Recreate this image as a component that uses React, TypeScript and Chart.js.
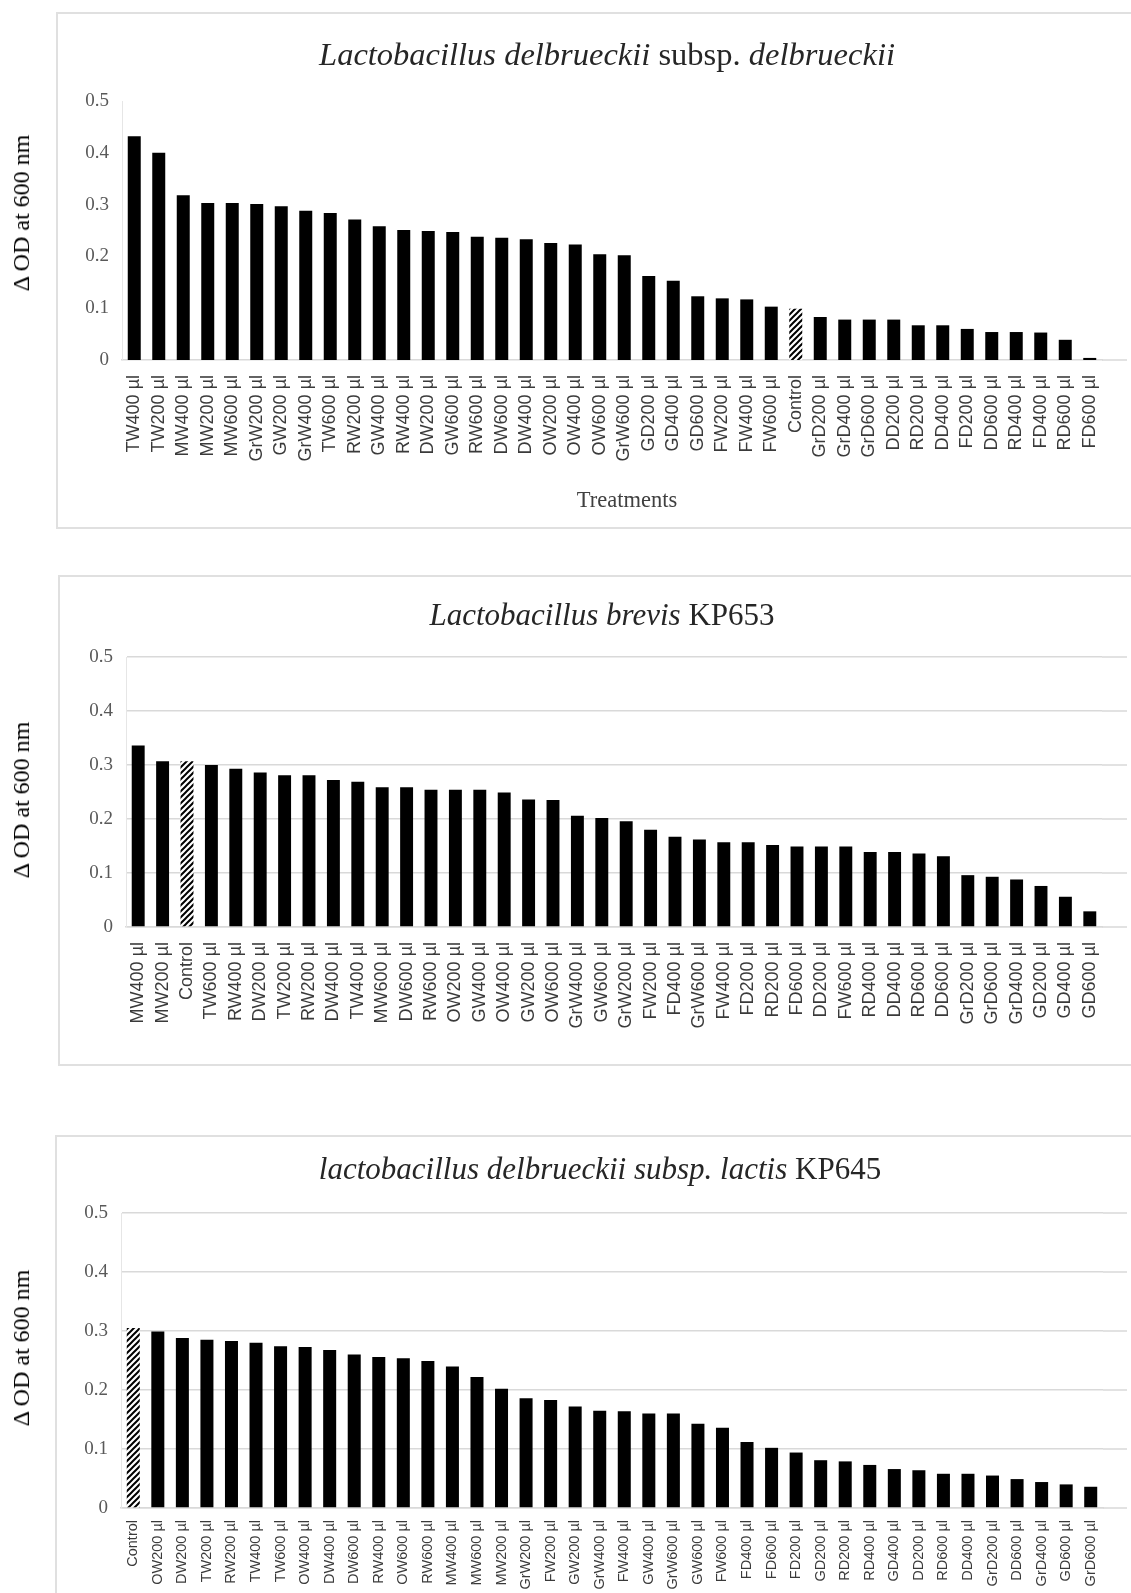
import React, { useEffect, useRef } from "react";
import { Chart, registerables } from "chart.js";

Chart.register(...registerables);

// ---------- Data ----------
const LDD_CATEGORIES = [
  "TW400 µl", "TW200 µl", "MW400 µl", "MW200 µl", "MW600 µl", "GrW200 µl", "GW200 µl", "GrW400 µl",
  "TW600 µl", "RW200 µl", "GW400 µl", "RW400 µl", "DW200 µl", "GW600 µl", "RW600 µl", "DW600 µl",
  "DW400 µl", "OW200 µl", "OW400 µl", "OW600 µl", "GrW600 µl", "GD200 µl", "GD400 µl", "GD600 µl",
  "FW200 µl", "FW400 µl", "FW600 µl", "Control", "GrD200 µl", "GrD400 µl", "GrD600 µl", "DD200 µl",
  "RD200 µl", "DD400 µl", "FD200 µl", "DD600 µl", "RD400 µl", "FD400 µl", "RD600 µl", "FD600 µl",
];
const LDD_VALUES = [
  0.432, 0.4, 0.318, 0.303, 0.303, 0.301, 0.297, 0.288,
  0.284, 0.271, 0.258, 0.251, 0.249, 0.247, 0.238, 0.236,
  0.233, 0.226, 0.223, 0.204, 0.202, 0.162, 0.153, 0.123,
  0.119, 0.117, 0.103, 0.099, 0.083, 0.078, 0.078, 0.078,
  0.067, 0.067, 0.06, 0.054, 0.054, 0.053, 0.039, 0.004,
];

const LB_CATEGORIES = [
  "MW400 µl", "MW200 µl", "Control", "TW600 µl", "RW400 µl", "DW200 µl", "TW200 µl", "RW200 µl",
  "DW400 µl", "TW400 µl", "MW600 µl", "DW600 µl", "RW600 µl", "OW200 µl", "GW400 µl", "OW400 µl",
  "GW200 µl", "OW600 µl", "GrW400 µl", "GW600 µl", "GrW200 µl", "FW200 µl", "FD400 µl", "GrW600 µl",
  "FW400 µl", "FD200 µl", "RD200 µl", "FD600 µl", "DD200 µl", "FW600 µl", "RD400 µl", "DD400 µl",
  "RD600 µl", "DD600 µl", "GrD200 µl", "GrD600 µl", "GrD400 µl", "GD200 µl", "GD400 µl", "GD600 µl",
];
const LB_VALUES = [
  0.336, 0.307, 0.307, 0.3, 0.293, 0.286, 0.281, 0.281,
  0.272, 0.269, 0.259, 0.259, 0.254, 0.254, 0.254, 0.249,
  0.236, 0.235, 0.206, 0.202, 0.196, 0.18, 0.167, 0.162,
  0.157, 0.157, 0.152, 0.149, 0.149, 0.149, 0.139, 0.139,
  0.136, 0.131, 0.096, 0.093, 0.088, 0.076, 0.056, 0.029,
];

const LDL_CATEGORIES = [
  "Control", "OW200 µl", "DW200 µl", "TW200 µl", "RW200 µl", "TW400 µl", "TW600 µl", "OW400 µl",
  "DW400 µl", "DW600 µl", "RW400 µl", "OW600 µl", "RW600 µl", "MW400 µl", "MW600 µl", "MW200 µl",
  "GrW200 µl", "FW200 µl", "GW200 µl", "GrW400 µl", "FW400 µl", "GW400 µl", "GrW600 µl", "GW600 µl",
  "FW600 µl", "FD400 µl", "FD600 µl", "FD200 µl", "GD200 µl", "RD200 µl", "RD400 µl", "GD400 µl",
  "DD200 µl", "RD600 µl", "DD400 µl", "GrD200 µl", "DD600 µl", "GrD400 µl", "GD600 µl", "GrD600 µl",
];
const LDL_VALUES = [
  0.305, 0.299, 0.288, 0.285, 0.283, 0.28, 0.274, 0.273,
  0.268, 0.26, 0.256, 0.254, 0.249, 0.24, 0.222, 0.202,
  0.186, 0.183, 0.172, 0.165, 0.164, 0.16, 0.16, 0.143,
  0.136, 0.112, 0.102, 0.094, 0.081, 0.079, 0.073, 0.066,
  0.064, 0.058, 0.058, 0.055, 0.049, 0.044, 0.04, 0.036,
];

const Y_MIN = 0;
const Y_MAX = 0.5;
const Y_STEP = 0.1;
const Y_LABEL = "Δ OD at 600 nm";
const X_LABEL = "Treatments";

// ---------- Helpers ----------
const W = 1131;
const SERIF = "'Liberation Serif', 'Times New Roman', serif";
const SANS = "'Liberation Sans', Arial, sans-serif";
const GRID = "#d9d9d9";

function makeHatch(): CanvasPattern | string {
  const c = document.createElement("canvas");
  const s = 6;
  c.width = s;
  c.height = s;
  const x = c.getContext("2d");
  if (!x) return "#555";
  x.fillStyle = "#fff";
  x.fillRect(0, 0, s, s);
  x.strokeStyle = "#000";
  x.lineWidth = 2;
  x.beginPath();
  x.moveTo(0, s);
  x.lineTo(s, 0);
  x.moveTo(-1, 1);
  x.lineTo(1, -1);
  x.moveTo(s - 1, s + 1);
  x.lineTo(s + 1, s - 1);
  x.stroke();
  return x.createPattern(c, "repeat") || "#555";
}

const extendLines = {
  id: "extendLines",
  beforeDatasetsDraw(chart: any, _args: any, opts: any) {
    const y = chart.scales.y;
    const { right } = chart.chartArea;
    const ctx = chart.ctx;
    ctx.save();
    ctx.strokeStyle = opts.color;
    ctx.lineWidth = 1.5;
    y.ticks.forEach((t: any) => {
      if (!opts.all && t.value !== 0) return;
      const py = y.getPixelForValue(t.value);
      ctx.beginPath();
      ctx.moveTo(right, py);
      ctx.lineTo(opts.to, py);
      ctx.stroke();
    });
    ctx.restore();
  },
};

type Area = { left: number; right: number; top: number; bottom: number };

function BarPanel(props: {
  top: number;
  height: number;
  labels: string[];
  values: number[];
  area: Area;
  grid: boolean;
  labelSize: number;
  labelPad: number;
}) {
  const ref = useRef<HTMLCanvasElement>(null);
  const { top, height, labels, values, area, grid, labelSize, labelPad } = props;
  useEffect(() => {
    const canvas = ref.current;
    if (!canvas) return;
    const hatch = makeHatch();
    const colors = labels.map((l) => (l === "Control" ? hatch : "#000000"));
    const chart = new Chart(canvas, {
      type: "bar",
      data: {
        labels,
        datasets: [
          {
            data: values,
            backgroundColor: colors as any,
            borderWidth: 0,
            barPercentage: 0.53,
            categoryPercentage: 1,
          },
        ],
      },
      options: {
        responsive: false,
        animation: false,
        events: [],
        layout: { padding: { left: 0, top: area.top, right: W - area.right, bottom: 0 } },
        plugins: {
          legend: { display: false },
          tooltip: { enabled: false },
          title: { display: false },
          extendLines: { to: 1127, all: grid, color: GRID },
        } as any,
        scales: {
          x: {
            grid: { display: false, drawTicks: false },
            border: { display: true, color: GRID, width: 1.5 },
            ticks: {
              autoSkip: false,
              minRotation: 90,
              maxRotation: 90,
              padding: labelPad,
              color: "#3a3a3a",
              font: { family: SANS, size: labelSize },
            },
            afterFit: (s: any) => {
              s.height = height - area.bottom;
            },
          },
          y: {
            min: Y_MIN,
            max: Y_MAX,
            ticks: {
              stepSize: Y_STEP,
              padding: 13,
              color: "#595959",
              font: { family: SERIF, size: 19 },
              callback: (v: any) => (Number(v) === 0 ? "0" : Number(v).toFixed(1)),
            },
            grid: { display: grid, color: GRID, lineWidth: 1.5, drawTicks: false },
            border: { display: true, color: "#e6e6e6", width: 1 },
            afterFit: (s: any) => {
              s.width = area.left;
            },
          },
        },
      },
      plugins: [extendLines as any],
    });
    return () => chart.destroy();
  }, []);
  return (
    <canvas
      ref={ref}
      width={W}
      height={height}
      style={{ position: "absolute", left: 0, top, width: W, height }}
    />
  );
}

function Txt(props: {
  x: number;
  y: number;
  size: number;
  rotate?: number;
  color?: string;
  family?: string;
  children: React.ReactNode;
}) {
  const { x, y, size, rotate, color, family, children } = props;
  return (
    <div
      style={{
        position: "absolute",
        left: x,
        top: y,
        transform: `translate(-50%, -50%)${rotate ? ` rotate(${rotate}deg)` : ""}`,
        whiteSpace: "nowrap",
        fontFamily: family || SERIF,
        fontSize: size,
        lineHeight: 1,
        color: color || "#262626",
      }}
    >
      {children}
    </div>
  );
}

function Box(props: { left: number; top: number; bottom: number }) {
  return (
    <div
      style={{
        position: "absolute",
        left: props.left,
        top: props.top,
        width: 1200,
        height: props.bottom - props.top,
        border: "2px solid #e0e0e0",
        boxSizing: "border-box",
      }}
    />
  );
}

export default function App() {
  return (
    <div
      style={{
        position: "absolute",
        left: 0,
        top: 0,
        width: W,
        height: 1593,
        overflow: "hidden",
        background: "#fff",
      }}
    >
      <Box left={56} top={12} bottom={529} />
      <Box left={58} top={575} bottom={1066} />
      <Box left={55} top={1135} bottom={1700} />

      <BarPanel
        top={0}
        height={540}
        labels={LDD_CATEGORIES}
        values={LDD_VALUES}
        area={{ left: 122, right: 1102, top: 101, bottom: 360 }}
        grid={false}
        labelSize={18}
        labelPad={15}
      />
      <BarPanel
        top={540}
        height={580}
        labels={LB_CATEGORIES}
        values={LB_VALUES}
        area={{ left: 126, right: 1102, top: 117, bottom: 387 }}
        grid={true}
        labelSize={18}
        labelPad={15}
      />
      <BarPanel
        top={1120}
        height={473}
        labels={LDL_CATEGORIES}
        values={LDL_VALUES}
        area={{ left: 121, right: 1103, top: 93, bottom: 388 }}
        grid={true}
        labelSize={14.5}
        labelPad={12}
      />

      <Txt x={607} y={54} size={32.5}>
        <i>Lactobacillus delbrueckii</i> subsp. <i>delbrueckii</i>
      </Txt>
      <Txt x={602} y={614} size={31}>
        <i>Lactobacillus brevis</i> KP653
      </Txt>
      <Txt x={600} y={1168} size={31}>
        <i>lactobacillus delbrueckii subsp. lactis</i> KP645
      </Txt>

      <Txt x={21} y={213} size={24} rotate={-90} color="#000">{Y_LABEL}</Txt>
      <Txt x={21} y={800} size={24} rotate={-90} color="#000">{Y_LABEL}</Txt>
      <Txt x={21} y={1348} size={24} rotate={-90} color="#000">{Y_LABEL}</Txt>

      <Txt x={627} y={500} size={22.5} color="#404040">{X_LABEL}</Txt>
    </div>
  );
}
